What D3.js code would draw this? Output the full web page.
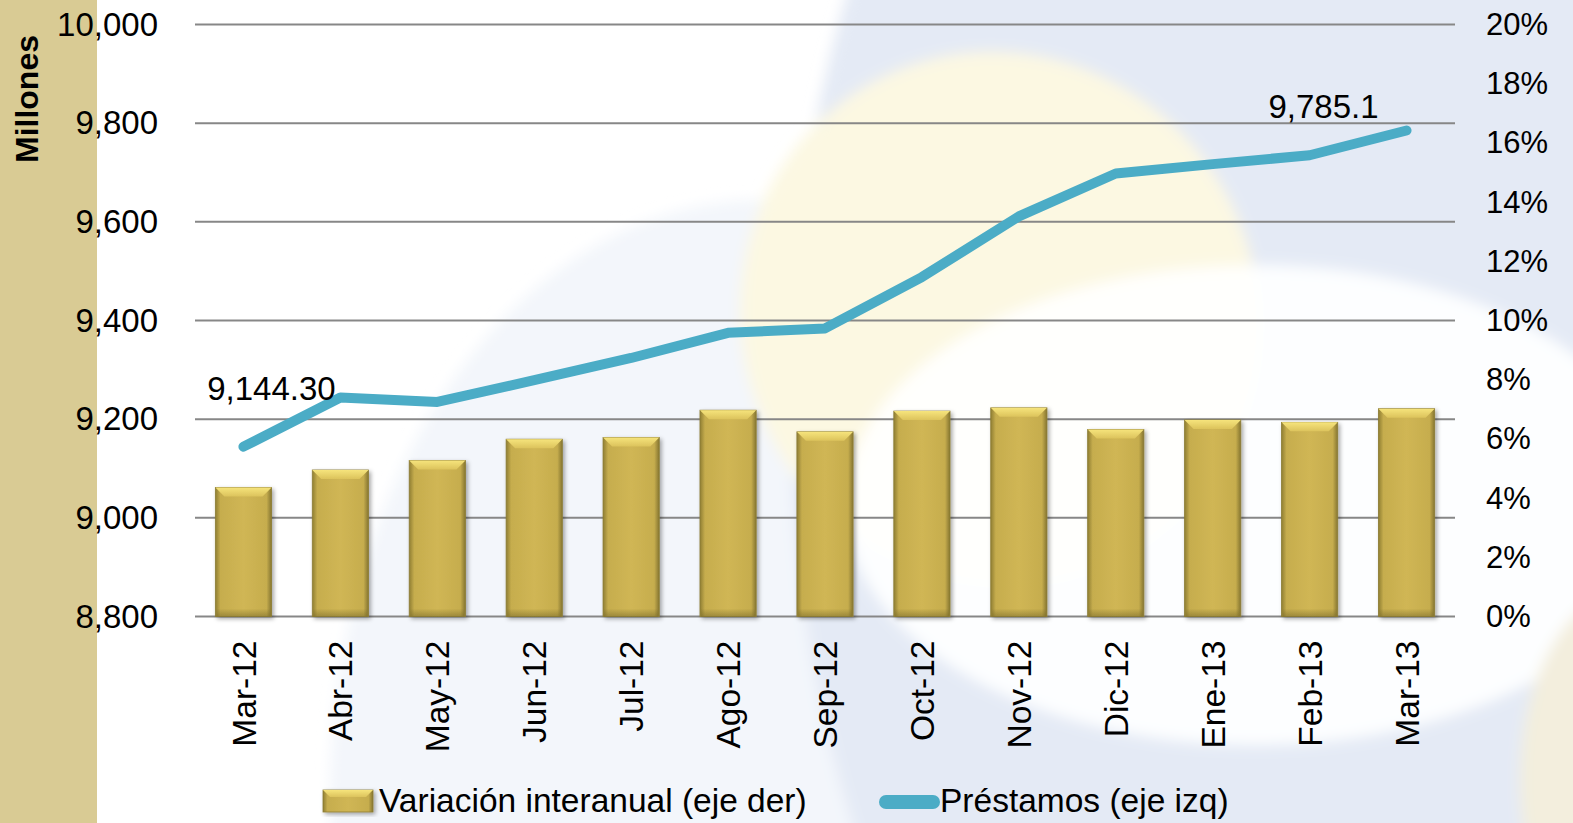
<!DOCTYPE html>
<html>
<head>
<meta charset="utf-8">
<script src="https://cdn.jsdelivr.net/npm/d3@7"></script>
<style>
  body { margin: 0; overflow: hidden; background: #fff; }
  svg { display: block; }
  text { font-family: "Liberation Sans", Arial, sans-serif; fill: #000; }
</style>
</head>
<body>
<div id="chart"></div>
<script>
// datos
const categories = ["Mar-12", "Abr-12", "May-12", "Jun-12", "Jul-12", "Ago-12", "Sep-12",
                    "Oct-12", "Nov-12", "Dic-12", "Ene-13", "Feb-13", "Mar-13"];
const prestamos = [9144.3, 9244, 9235, 9279, 9324, 9375, 9384, 9488, 9611, 9698, 9717, 9735, 9785.1];
const variacion = [4.36, 4.95, 5.27, 5.99, 6.05, 6.97, 6.24, 6.94, 7.05, 6.32, 6.64, 6.56, 7.02];
const leftTicks = [8800, 9000, 9200, 9400, 9600, 9800, 10000];
const rightTicks = [0, 2, 4, 6, 8, 10, 12, 14, 16, 18, 20];
const legendLabels = ["Variación interanual (eje der)", "Préstamos (eje izq)"];

const W = 1573, H = 823;
const margin = { top: 24.5, right: 118, bottom: 206.5, left: 195 };
const width = W - margin.left - margin.right;
const height = H - margin.top - margin.bottom;

const svg = d3.select("#chart").append("svg")
    .attr("width", W).attr("height", H);

const defs = svg.append("defs");

// degradados de las barras
const gBody = defs.append("linearGradient").attr("id", "barBody")
    .attr("x1", 0).attr("x2", 1).attr("y1", 0).attr("y2", 0);
[["0%", "#8f7e32"], ["9%", "#c6ad4e"], ["50%", "#d0b654"], ["91%", "#c6ad4e"], ["100%", "#857530"]]
    .forEach(([o, c]) => gBody.append("stop").attr("offset", o).attr("stop-color", c));
const gTop = defs.append("linearGradient").attr("id", "barTop")
    .attr("x1", 0).attr("x2", 0).attr("y1", 0).attr("y2", 1);
[["0%", "#f6e47c"], ["100%", "#dcc35c"]]
    .forEach(([o, c]) => gTop.append("stop").attr("offset", o).attr("stop-color", c));
const gBot = defs.append("linearGradient").attr("id", "barBot")
    .attr("x1", 0).attr("x2", 0).attr("y1", 0).attr("y2", 1);
[["0%", "rgba(120,105,40,0)"], ["100%", "rgba(120,105,40,0.55)"]]
    .forEach(([o, c]) => gBot.append("stop").attr("offset", o).attr("stop-color", c));

const shadow = defs.append("filter").attr("id", "shadow")
    .attr("x", "-20%").attr("y", "-20%").attr("width", "140%").attr("height", "140%");
shadow.append("feDropShadow").attr("dx", 2).attr("dy", 2).attr("stdDeviation", 2)
    .attr("flood-color", "#000").attr("flood-opacity", 0.35);

const blur = defs.append("filter").attr("id", "soft")
    .attr("x", "-20%").attr("y", "-20%").attr("width", "140%").attr("height", "140%");
blur.append("feGaussianBlur").attr("stdDeviation", 7);

// fondo decorativo
const bg = svg.append("g").attr("filter", "url(#soft)");
bg.append("ellipse").attr("cx", 760).attr("cy", 800).attr("rx", 430).attr("ry", 600)
    .attr("fill", "#f3f6fb");
bg.append("ellipse").attr("cx", 1320).attr("cy", 400).attr("rx", 530).attr("ry", 900)
    .attr("fill", "#e4eaf5");
bg.append("ellipse").attr("cx", 1000).attr("cy", 318).attr("rx", 258).attr("ry", 268)
    .attr("transform", "rotate(-25 1000 318)")
    .attr("fill", "#fcf8e2");
bg.append("ellipse").attr("cx", 1255).attr("cy", 505).attr("rx", 410).attr("ry", 240)
    .attr("fill", "#ffffff").attr("opacity", 0.93);
bg.append("ellipse").attr("cx", 1630).attr("cy", 780).attr("rx", 110).attr("ry", 190)
    .attr("fill", "#f3eedd");

svg.append("rect").attr("x", 0).attr("y", 0).attr("width", 97).attr("height", H)
    .attr("fill", "#d9cb94");

const g = svg.append("g").attr("transform", `translate(${margin.left},${margin.top})`);

const x = d3.scaleBand().domain(categories).range([0, width]).padding(0);
const yL = d3.scaleLinear().domain([8800, 10000]).range([height, 0]);
const yR = d3.scaleLinear().domain([0, 20]).range([height, 0]);

// lineas de cuadricula
g.append("g")
    .selectAll("line").data(leftTicks).join("line")
    .attr("x1", 0).attr("x2", width)
    .attr("y1", d => yL(d)).attr("y2", d => yL(d))
    .attr("stroke", "#878787").attr("stroke-width", 2);

// eje izquierdo
const axL = g.append("g")
    .call(d3.axisLeft(yL).tickValues(leftTicks).tickFormat(d3.format(",")).tickSize(0).tickPadding(37));
axL.select(".domain").remove();
axL.selectAll("text").attr("font-size", 33).style("font-family", "'Liberation Sans', Arial, sans-serif");

// eje derecho
const axR = g.append("g").attr("transform", `translate(${width},0)`)
    .call(d3.axisRight(yR).tickValues(rightTicks).tickFormat(d => d + "%").tickSize(0).tickPadding(31));
axR.select(".domain").remove();
axR.selectAll("text").attr("font-size", 31).style("font-family", "'Liberation Sans', Arial, sans-serif");

// eje x (etiquetas giradas)
const axX = g.append("g").attr("transform", `translate(0,${height})`)
    .call(d3.axisBottom(x).tickSize(0).tickPadding(0));
axX.select(".domain").remove();
axX.selectAll("text")
    .attr("font-size", 33.5)
    .style("font-family", "'Liberation Sans', Arial, sans-serif")
    .attr("text-anchor", "end")
    .attr("transform", "translate(0,24) rotate(-90)")
    .attr("x", 0).attr("y", 0).attr("dy", "0.36em");

// barras
const barW = x.bandwidth() * 0.58;
const bevel = 9;
const bars = g.append("g").selectAll("g").data(variacion).join("g")
    .attr("filter", "url(#shadow)");
bars.append("rect")
    .attr("x", (d, i) => x(categories[i]) + (x.bandwidth() - barW) / 2)
    .attr("y", d => yR(d))
    .attr("width", barW)
    .attr("height", d => height - yR(d))
    .attr("fill", "url(#barBody)")
    .attr("stroke", "#8c7c34").attr("stroke-width", 0.8);
bars.append("rect")
    .attr("x", (d, i) => x(categories[i]) + (x.bandwidth() - barW) / 2 + 1)
    .attr("y", d => height - 8)
    .attr("width", barW - 2)
    .attr("height", 8)
    .attr("fill", "url(#barBot)");
bars.append("polygon")
    .attr("points", (d, i) => {
        const x0 = x(categories[i]) + (x.bandwidth() - barW) / 2, t = yR(d);
        return [[x0, t], [x0 + barW, t], [x0 + barW - bevel, t + bevel], [x0 + bevel, t + bevel]].join(" ");
    })
    .attr("fill", "url(#barTop)");

// linea de prestamos
const line = d3.line()
    .x((d, i) => x(categories[i]) + x.bandwidth() / 2)
    .y(d => yL(d));
g.append("path").datum(prestamos)
    .attr("d", line)
    .attr("fill", "none")
    .attr("stroke", "#4bacc6")
    .attr("stroke-width", 10)
    .attr("stroke-linejoin", "round")
    .attr("stroke-linecap", "round");

// etiquetas de datos (primera y ultima)
const labelFmt = [d => d3.format(",.2f")(d), d => d3.format(",.1f")(d)];
const labelOff = [[28, -47], [-83, -13]];
[0, prestamos.length - 1].forEach((idx, k) => {
    g.append("text")
        .attr("x", x(categories[idx]) + x.bandwidth() / 2 + labelOff[k][0])
        .attr("y", yL(prestamos[idx]) + labelOff[k][1])
        .attr("text-anchor", "middle")
        .attr("font-size", 33)
        .text(labelFmt[k](prestamos[idx]));
});

// titulo del eje
svg.append("text")
    .attr("transform", "translate(38,99) rotate(-90)")
    .attr("text-anchor", "middle")
    .attr("font-size", 32)
    .attr("font-weight", "bold")
    .text("Millones");

// leyenda
const leg = svg.append("g").attr("transform", "translate(0,812)");
const sw = leg.append("g").attr("filter", "url(#shadow)");
sw.append("rect").attr("x", 323).attr("y", -22).attr("width", 50).attr("height", 22)
    .attr("fill", "url(#barBody)").attr("stroke", "#8c7c34").attr("stroke-width", 0.8);
sw.append("polygon").attr("points", "323,-22 373,-22 366,-15 330,-15").attr("fill", "url(#barTop)");
leg.append("text").attr("x", 379).attr("y", 0).attr("font-size", 33.5).text(legendLabels[0]);
leg.append("line").attr("x1", 886).attr("x2", 933).attr("y1", -10).attr("y2", -10)
    .attr("stroke", "#4bacc6").attr("stroke-width", 14).attr("stroke-linecap", "round");
leg.append("text").attr("x", 940).attr("y", 0).attr("font-size", 33.5).text(legendLabels[1]);
</script>
</body>
</html>
